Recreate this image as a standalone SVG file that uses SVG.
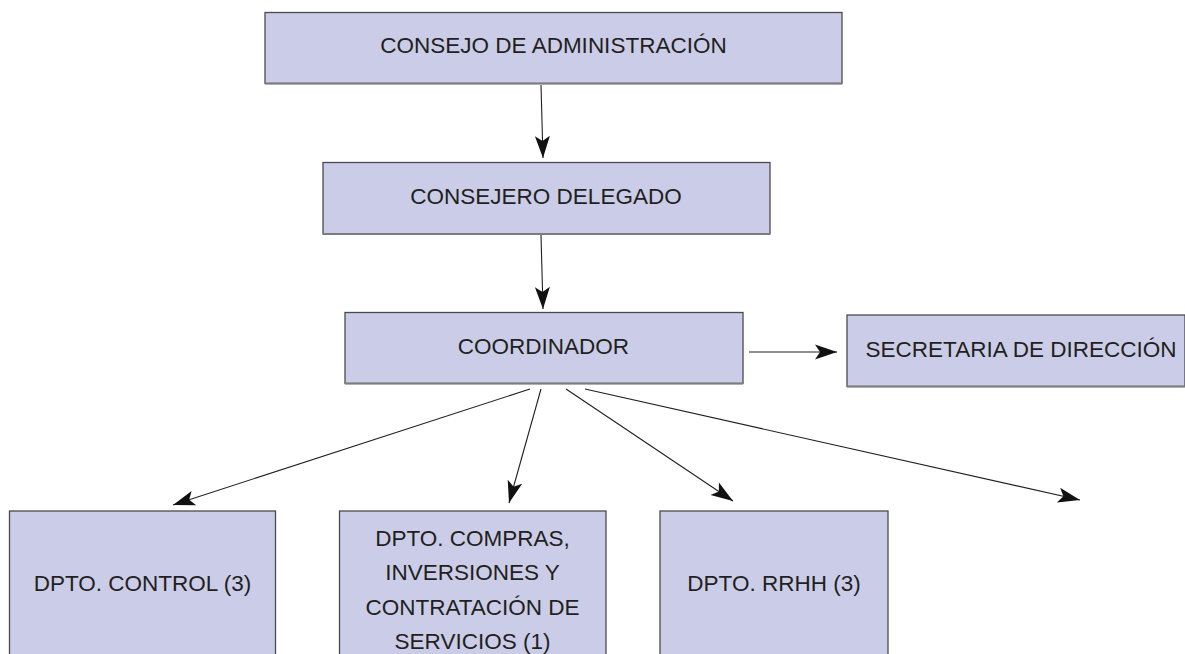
<svg xmlns="http://www.w3.org/2000/svg" width="1185" height="654" viewBox="0 0 1185 654">
<style>
.box{fill:#cbcde8;stroke:#4a4a4a;stroke-width:1.3}
.sh{fill:none;stroke:#7c7c7c;stroke-width:2}
.t{font-family:"Liberation Sans",Arial,Helvetica,sans-serif;font-size:22.5px;fill:#231f20;text-anchor:middle}
.c{stroke:#231f20;stroke-width:1.1;fill:none;marker-end:url(#ah)}
</style>
<defs>
<marker id="ah" markerUnits="userSpaceOnUse" markerWidth="24" markerHeight="16" refX="22" refY="7.5" orient="auto" overflow="visible">
<path d="M0,0 L22,7.5 L0,15 L5,7.5 Z" fill="#111"/>
</marker>
</defs>
<rect width="1185" height="654" fill="#ffffff"/>
<g id="connectors">
<line class="c" x1="541" y1="85" x2="543" y2="158"/>
<line class="c" x1="541" y1="235" x2="543" y2="309"/>
<line class="c" x1="749" y1="352" x2="837" y2="352"/>
<line class="c" x1="530" y1="389" x2="173" y2="505"/>
<line class="c" x1="541" y1="389" x2="509" y2="503"/>
<line class="c" x1="566" y1="389" x2="733" y2="501"/>
<line class="c" x1="585" y1="389" x2="1080" y2="500"/>
</g>
<g id="n1">
<rect class="box" x="265" y="12.5" width="577" height="71"/>
<path class="sh" d="M265,83.5 H842"/>
<text class="t" x="553.5" y="53">CONSEJO DE ADMINISTRACIÓN</text>
</g>
<g id="n2">
<rect class="box" x="323" y="162.5" width="447" height="71.5"/>
<path class="sh" d="M323,234 H770"/>
<text class="t" x="546" y="203.5">CONSEJERO DELEGADO</text>
</g>
<g id="n3">
<rect class="box" x="345" y="312.5" width="398" height="71"/>
<path class="sh" d="M345,383.5 H743"/>
<text class="t" x="543.5" y="353.5">COORDINADOR</text>
</g>
<g id="n4">
<rect class="box" x="847" y="315" width="338" height="71.5"/>
<path class="sh" d="M847,386.5 H1185"/>
<text class="t" x="1021" y="356.5">SECRETARIA DE DIRECCIÓN</text>
</g>
<g id="n5">
<rect class="box" x="9.5" y="511" width="266" height="170"/>
<text class="t" x="142.5" y="591">DPTO. CONTROL (3)</text>
</g>
<g id="n6">
<rect class="box" x="339.5" y="511" width="266.5" height="170"/>
<text class="t" x="472.5" y="545.5">DPTO. COMPRAS,</text>
<text class="t" x="472.5" y="580">INVERSIONES Y</text>
<text class="t" x="472.5" y="614.5">CONTRATACIÓN DE</text>
<text class="t" x="472.5" y="648.5">SERVICIOS (1)</text>
</g>
<g id="n7">
<rect class="box" x="660" y="511" width="228" height="170"/>
<text class="t" x="774" y="591">DPTO. RRHH (3)</text>
</g>
</svg>
